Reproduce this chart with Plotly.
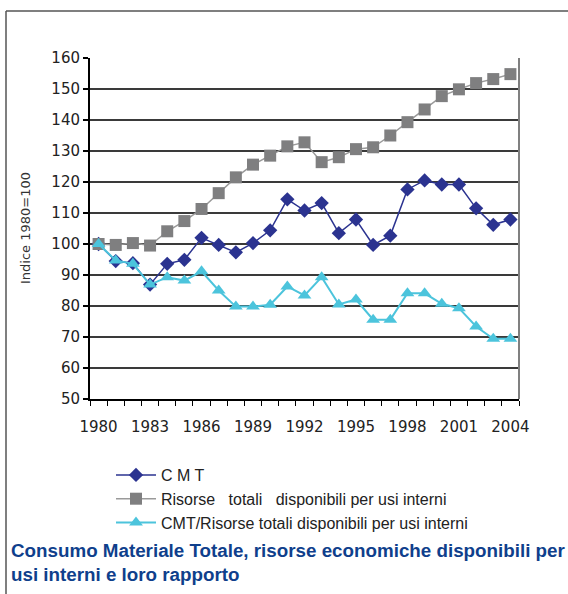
import plotly.graph_objects as go

years = list(range(1980, 2005))
cmt = [100, 94.5, 93.8, 86.9, 93.6, 94.9, 102.0, 99.7, 97.3, 100.3, 104.4, 114.4, 110.8,
       113.2, 103.5, 107.9, 99.7, 102.7, 117.6, 120.5, 119.2, 119.2, 111.5, 106.2, 107.9]
risorse = [100, 99.7, 100.3, 99.5, 104.1, 107.4, 111.3, 116.4, 121.5, 125.6, 128.5, 131.5, 132.8,
           126.4, 128.0, 130.6, 131.2, 135.0, 139.3, 143.4, 147.7, 149.9, 151.9, 153.2, 154.8]
rapporto = [100, 94.7, 93.6, 86.9, 89.3, 88.2, 91.2, 85.0, 79.8, 79.8, 80.4, 86.3, 83.4,
            89.3, 80.5, 82.1, 75.6, 75.6, 84.1, 84.1, 80.7, 79.3, 73.4, 69.4, 69.4]
tick_years = list(range(1980, 2005, 3))
tick_labels = [str(y) for y in tick_years]

names = ["C M T",
         "Risorse\u00a0\u00a0 totali\u00a0\u00a0 disponibili per usi interni",
         "CMT/Risorse totali disponibili per usi interni"]

# plot area in pixels
W, H = 568, 594
L, R, T, B = 90, 519, 58, 399
def px(x):
    return (x - L) / (R - L)
def py(y):
    return (B - y) / (B - T)

fig = go.Figure()
fig.add_trace(go.Scatter(x=years, y=cmt, name=names[0], mode="lines+markers",
                         line=dict(color="#2b3390", width=1.5),
                         marker=dict(symbol="diamond", size=11, color="#2b3390"),
                         legendgroup="a"))
fig.add_trace(go.Scatter(x=years, y=risorse, name=names[1], mode="lines+markers",
                         line=dict(color="#9a9a9a", width=1.5),
                         marker=dict(symbol="square", size=12, color="#7f7f80"),
                         legendgroup="b"))
fig.add_trace(go.Scatter(x=years, y=rapporto, name=names[2], mode="lines+markers",
                         line=dict(color="#4cc4dc", width=2),
                         marker=dict(symbol="triangle-up", size=12, color="#4cc4dc"),
                         legendgroup="c"))

tickfont = dict(family="DejaVu Sans", size=15, color="#222222")

fig.update_layout(
    width=W, height=H,
    margin=dict(l=L, r=W - R, t=T, b=H - B, pad=0),
    paper_bgcolor="white", plot_bgcolor="white",
    showlegend=True,
    legend=dict(x=px(111), y=py(458), xanchor="left", yanchor="top",
                font=dict(family="Liberation Sans", size=16, color="#222222"),
                tracegroupgap=0, itemwidth=40, bgcolor="rgba(0,0,0,0)"),
    xaxis=dict(range=[1979.5, 2004.5], tickmode="array", tickvals=tick_years,
               ticktext=tick_labels, ticks="", showgrid=False, zeroline=False,
               showline=True, linecolor="black", linewidth=2,
               tickfont=tickfont, ticklabelstandoff=13,
               minor=dict(ticks="outside", tick0=1979.5, dtick=1, ticklen=5,
                          tickcolor="black", tickwidth=1.2, showgrid=False)),
    yaxis=dict(range=[50, 160], dtick=10, ticks="outside", ticklen=5,
               tickcolor="black", tickwidth=1.5, showline=True, linecolor="black",
               linewidth=2, gridcolor="#3a3a3a", gridwidth=1.5, zeroline=False,
               tickfont=tickfont),
    shapes=[
        dict(type="line", xref="paper", yref="paper", x0=1, x1=1, y0=0, y1=1,
             line=dict(color="#808080", width=2)),
        dict(type="line", xref="paper", yref="paper", x0=px(6), x1=px(6),
             y0=py(11), y1=py(594), line=dict(color="#555555", width=1.5)),
        dict(type="line", xref="paper", yref="paper", x0=px(6), x1=px(568),
             y0=py(11), y1=py(11), line=dict(color="#555555", width=1.5)),
    ],
    annotations=[
        dict(text="Indice 1980=100", xref="paper", yref="paper", x=px(25), y=py(228),
             showarrow=False, textangle=-90, xanchor="center", yanchor="middle",
             font=dict(family="DejaVu Sans", size=13, color="#333333")),
        dict(text="Consumo Materiale Totale, risorse economiche disponibili per<br>usi interni e loro rapporto",
             xref="paper", yref="paper", x=px(9), y=py(538), showarrow=False,
             xanchor="left", yanchor="top", align="left",
             font=dict(family="Liberation Sans", size=18.8, color="#0f3f8c", weight="bold")),
    ],
)

fig.write_html("out.html", config={"displayModeBar": False},
               post_script="document.body.style.margin='0';")
